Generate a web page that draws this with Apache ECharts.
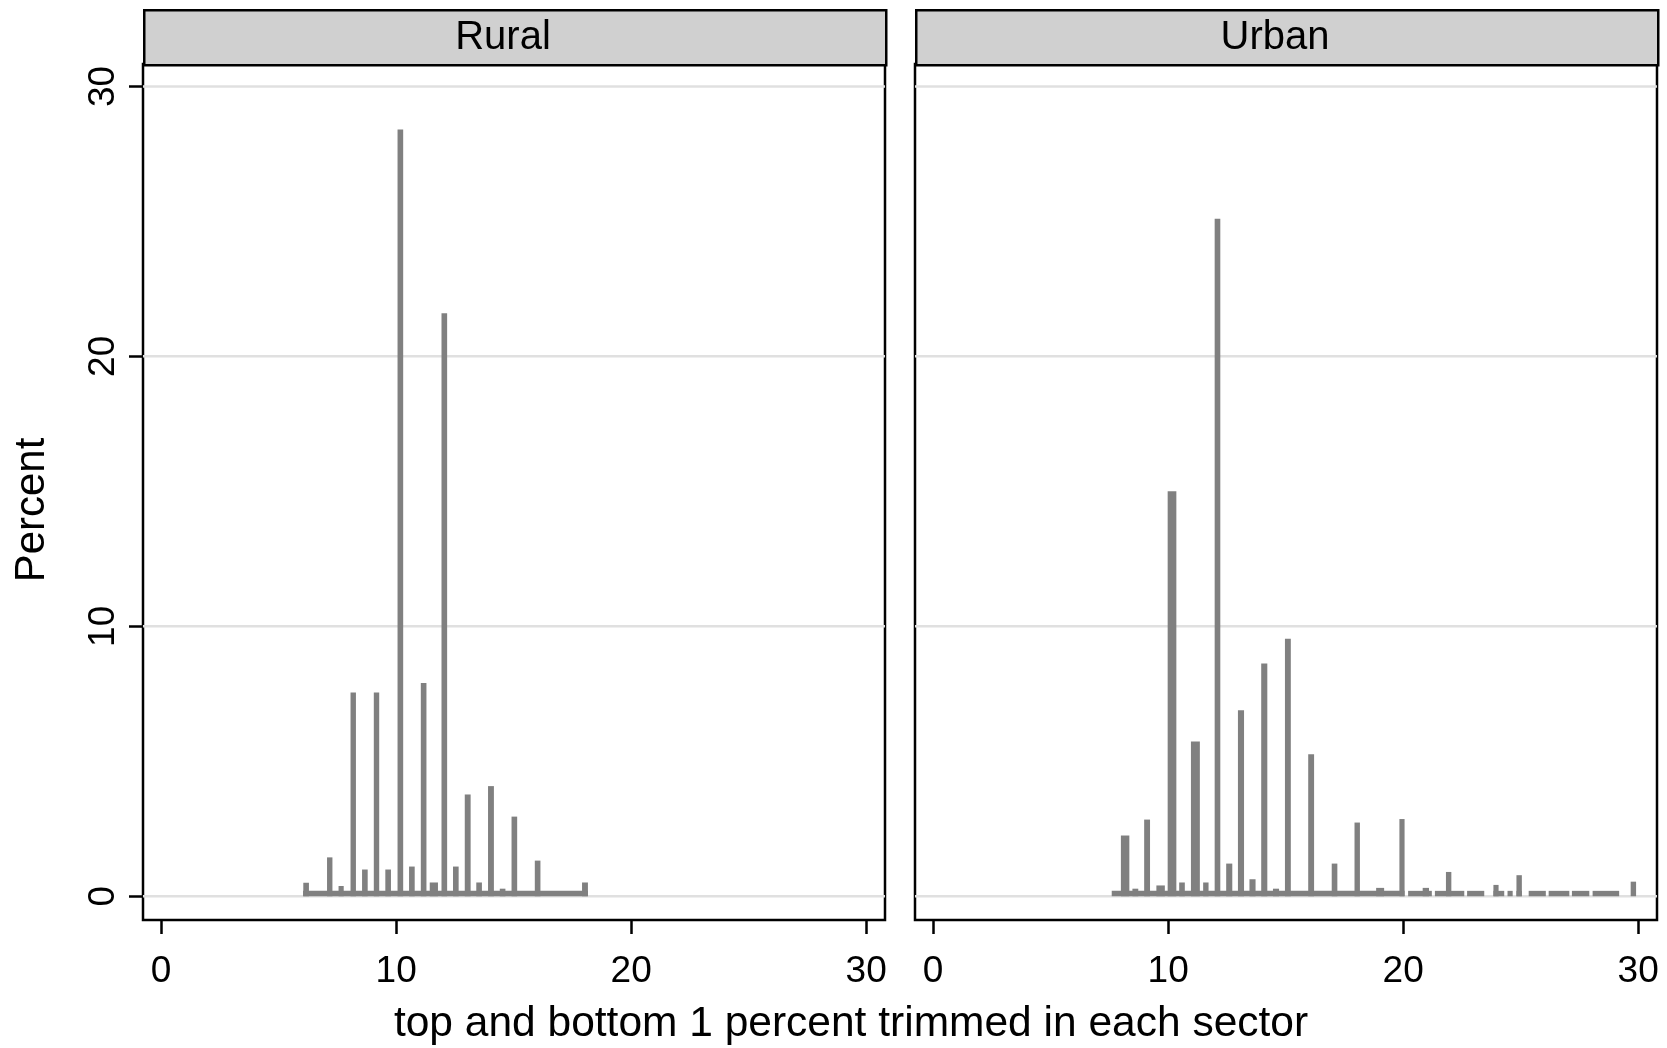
<!DOCTYPE html>
<html>
<head>
<meta charset="utf-8">
<script src="https://cdn.jsdelivr.net/npm/echarts@6/dist/echarts.min.js"></script>
<style>
html,body{margin:0;padding:0;background:#fff;}
#chart{width:1667px;height:1048px;}
</style>
</head>
<body>
<div id="chart"></div>
<script>
// ---- data ----
const panels = ["Rural", "Urban"];
const xTicks = [0, 10, 20, 30];
const yTicks = [0, 10, 20, 30];
const xTitle = "top and bottom 1 percent trimmed in each sector";
const yTitle = "Percent";

// Rural: visible bars (bin start, bin end, percent)
const ruralStart = [6.05, 7.06, 7.55, 8.06, 8.55, 9.05, 9.54, 10.06, 10.55, 11.05, 11.43, 11.93, 12.42, 12.92, 13.41, 13.91, 14.41, 14.91, 15.90, 17.91];
const ruralEnd   = [6.29, 7.29, 7.77, 8.29, 8.79, 9.28, 9.78, 10.30, 10.79, 11.29, 11.78, 12.17, 12.66, 13.17, 13.65, 14.16, 14.65, 15.15, 16.14, 18.16];
const ruralPct   = [0.50, 1.44, 0.38, 7.55, 0.99, 7.55, 0.99, 28.4, 1.10, 7.9, 0.51, 21.6, 1.10, 3.77, 0.51, 4.08, 0.28, 2.95, 1.32, 0.51];
// Rural: runs of very small bins
const ruralLowStart = [6.04];
const ruralLowEnd   = [18.16];
const ruralLowPct   = [0.2];

// Urban: visible bars
const urbanStart = [7.99, 8.48, 8.98, 9.50, 9.98, 10.47, 10.97, 11.49, 11.98, 12.47, 12.97, 13.46, 13.96, 14.46, 14.97, 15.96, 16.96, 17.93, 18.85, 19.84, 20.83, 21.82, 23.84, 24.82, 29.68];
const urbanEnd   = [8.35, 8.73, 9.23, 9.86, 10.35, 10.71, 11.35, 11.72, 12.22, 12.73, 13.23, 13.72, 14.22, 14.72, 15.22, 16.21, 17.20, 18.16, 19.19, 20.06, 21.10, 22.05, 24.06, 25.05, 29.91];
const urbanPct   = [2.25, 0.28, 2.84, 0.40, 15.0, 0.51, 5.73, 0.51, 25.1, 1.21, 6.89, 0.63, 8.62, 0.28, 9.54, 5.26, 1.21, 2.73, 0.31, 2.86, 0.31, 0.90, 0.42, 0.78, 0.54];
// Urban: runs of very small bins
const urbanLowStart = [7.60, 20.21, 21.35, 22.72, 23.84, 24.44, 24.82, 25.34, 26.19, 27.18, 28.06];
const urbanLowEnd   = [20.06, 21.22, 22.60, 23.45, 24.30, 24.66, 25.05, 26.07, 27.07, 27.92, 29.19];
const urbanLowPct   = [0.2, 0.2, 0.2, 0.2, 0.2, 0.2, 0.2, 0.2, 0.2, 0.2, 0.2];

// ---- layout & style ----
const FONT = "'Liberation Sans', Arial, Helvetica, sans-serif";
const X_MIN = -0.77, X_MAX = 30.8, Y_MIN = -0.88, Y_MAX = 30.83;
const gridTop = 64, gridH = 856, gridW = 742;
const gridLefts = [143, 915];
const stripTop = 9, stripH = gridTop - stripTop;
const BAR = '#808080';

function zip3(a, b, c) { return a.map((v, i) => [v, b[i], c[i]]); }

function renderBar(params, api) {
  const lo = api.value(0), hi = api.value(1), p = api.value(2);
  const tl = api.coord([lo, p]);
  const br = api.coord([hi, 0]);
  return {
    type: 'rect',
    shape: { x: tl[0], y: tl[1], width: br[0] - tl[0], height: br[1] - tl[1] },
    style: { fill: BAR }
  };
}
function renderGridLine(params, api) {
  const cs = params.coordSys;
  const y = api.coord([0, api.value(0)])[1];
  return {
    type: 'line',
    shape: { x1: cs.x, y1: y, x2: cs.x + cs.width, y2: y },
    style: { stroke: '#e0e0e0', lineWidth: 2.5 }
  };
}

const grids = gridLefts.map(l => ({
  left: l, top: gridTop, width: gridW, height: gridH,
  show: true, borderColor: '#000', borderWidth: 2.5, backgroundColor: '#fff', z: 0
}));

const xAxes = panels.map((p, i) => ({
  type: 'value', gridIndex: i, min: X_MIN, max: X_MAX, position: 'bottom',
  axisLine: { show: false, onZero: false },
  axisTick: { show: true, customValues: xTicks, length: 14, lineStyle: { color: '#000', width: 2.5 } },
  axisLabel: { show: true, customValues: xTicks, fontSize: 37, fontFamily: FONT, color: '#000', margin: 33 },
  splitLine: { show: false }
}));

const yAxes = panels.map((p, i) => ({
  type: 'value', gridIndex: i, min: Y_MIN, max: Y_MAX, position: 'left',
  axisLine: { show: false, onZero: false },
  axisTick: { show: i === 0, customValues: yTicks, length: 14, lineStyle: { color: '#000', width: 2.5 } },
  axisLabel: { show: i === 0, customValues: yTicks, rotate: 90, fontSize: 37, fontFamily: FONT, color: '#000', margin: 21 },
  splitLine: { show: false }
}));

const binSets = [
  { bars: zip3(ruralStart, ruralEnd, ruralPct), low: zip3(ruralLowStart, ruralLowEnd, ruralLowPct) },
  { bars: zip3(urbanStart, urbanEnd, urbanPct), low: zip3(urbanLowStart, urbanLowEnd, urbanLowPct) }
];

const series = [];
panels.forEach((p, i) => {
  series.push({
    type: 'custom', xAxisIndex: i, yAxisIndex: i, silent: true, z: 1,
    data: yTicks.map(v => [v]), encode: { y: 0 }, renderItem: renderGridLine
  });
  series.push({
    type: 'custom', xAxisIndex: i, yAxisIndex: i, silent: true, z: 2,
    data: binSets[i].low, encode: { x: [0, 1], y: 2 }, renderItem: renderBar
  });
  series.push({
    type: 'custom', xAxisIndex: i, yAxisIndex: i, silent: true, z: 3,
    data: binSets[i].bars, encode: { x: [0, 1], y: 2 }, renderItem: renderBar
  });
});

const graphics = [];
panels.forEach((p, i) => {
  graphics.push({
    type: 'rect', left: gridLefts[i], top: stripTop, z: 10,
    shape: { width: gridW, height: stripH },
    style: { fill: '#d0d0d0', stroke: '#000', lineWidth: 2.5 }
  });
  graphics.push({
    type: 'text', x: gridLefts[i] + gridW / 2 - 11, y: stripTop + stripH / 2 + 1, z: 11,
    style: { text: p, font: '40px ' + FONT, fill: '#000', textAlign: 'center', textVerticalAlign: 'middle' }
  });
});
graphics.push({
  type: 'text', x: 851, y: 1024, z: 11,
  style: { text: xTitle, font: '42.5px ' + FONT, fill: '#000', textAlign: 'center', textVerticalAlign: 'middle' }
});
graphics.push({
  type: 'text', x: 32, y: 510, rotation: Math.PI / 2, z: 11,
  style: { text: yTitle, font: '42px ' + FONT, fill: '#000', textAlign: 'center', textVerticalAlign: 'middle' }
});

const chart = echarts.init(document.getElementById('chart'), null, { renderer: 'canvas' });
chart.setOption({
  animation: false,
  backgroundColor: '#fff',
  grid: grids,
  xAxis: xAxes,
  yAxis: yAxes,
  series: series,
  graphic: graphics
});
</script>
</body>
</html>
